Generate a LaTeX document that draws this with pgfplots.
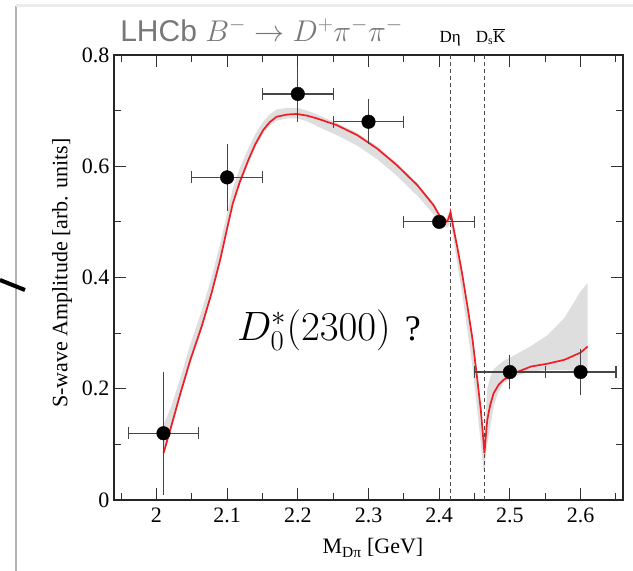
\RequirePackage{fix-cm}
\documentclass[border=0pt]{standalone}
\usepackage{pgfplots}
\pgfplotsset{compat=1.18}
\usepackage{pgfplotstable}
\usepgfplotslibrary{fillbetween}
\usepackage{fontspec}
\setmainfont{Liberation Serif}
\newfontfamily\titlesans{Liberation Sans}
\definecolor{titlegray}{RGB}{120,120,120}
\definecolor{barcol}{RGB}{70,70,70}
\definecolor{curvered}{RGB}{238,30,36}
\definecolor{bandgray}{RGB}{222,222,222}

\pgfplotstableread{
x y lo hi
2.010 0.084 0.080 0.135
2.020 0.128 0.122 0.165
2.034 0.192 0.186 0.220
2.048 0.252 0.246 0.280
2.064 0.312 0.306 0.340
2.078 0.372 0.366 0.400
2.090 0.431 0.425 0.460
2.100 0.488 0.482 0.515
2.108 0.533 0.527 0.560
2.118 0.572 0.566 0.597
2.130 0.611 0.605 0.632
2.140 0.640 0.634 0.658
2.151 0.665 0.659 0.680
2.160 0.679 0.673 0.693
2.170 0.689 0.682 0.702
2.185 0.693 0.686 0.705
2.199 0.694 0.686 0.705
2.213 0.691 0.681 0.700
2.227 0.686 0.672 0.693
2.255 0.674 0.656 0.678
2.284 0.656 0.637 0.660
2.312 0.632 0.613 0.636
2.340 0.602 0.583 0.606
2.369 0.566 0.547 0.570
2.392 0.530 0.514 0.534
2.404 0.503 0.492 0.508
2.409 0.499 0.490 0.506
2.413 0.505 0.492 0.512
2.416 0.518 0.500 0.520
2.420 0.490 0.470 0.500
2.4255 0.455 0.425 0.462
2.432 0.410 0.375 0.418
2.440 0.348 0.305 0.355
2.447 0.290 0.240 0.297
2.454 0.216 0.160 0.225
2.459 0.160 0.100 0.170
2.462 0.115 0.060 0.130
2.464 0.084 0.050 0.120
2.466 0.115 0.080 0.160
2.468 0.144 0.100 0.200
2.472 0.170 0.130 0.220
2.477 0.192 0.168 0.235
2.484 0.207 0.195 0.243
2.491 0.216 0.210 0.250
2.506 0.228 0.222 0.260
2.530 0.240 0.231 0.277
2.553 0.245 0.234 0.296
2.577 0.252 0.234 0.327
2.600 0.265 0.231 0.375
2.610 0.276 0.228 0.390
}\curve

\pgfplotstableread{
x y ex ey
2.01 0.12 0.05 0.10
2.10 0.58 0.05 0.05
2.20 0.73 0.05 0.04
2.30 0.68 0.05 0.03
2.40 0.50 0.05 0.0
2.50 0.23 0.05 0.02
2.60 0.23 0.05 0.03
}\points

\begin{document}
\begin{tikzpicture}
% slide decorations
\draw[black!30, line width=2pt] (16pt,0pt) -- (16pt,565pt);
\draw[black!8, line width=3pt] (16pt,565pt) -- (633pt,565pt);
\draw[black, line width=4pt] (0pt,291pt) -- (25pt,281pt);
\begin{axis}[
  at={(114pt,71pt)}, anchor=south west,
  scale only axis, width=509pt, height=445pt,
  xmin=1.94, xmax=2.66, ymin=0, ymax=0.8,
  clip=false,
  xtick={2,2.1,2.2,2.3,2.4,2.5,2.6},
  minor xtick={1.95,2.05,2.15,2.25,2.35,2.45,2.55,2.65},
  ytick={0,0.2,0.4,0.6,0.8},
  minor ytick={0.1,0.3,0.5,0.7},
  tick align=inside,
  major tick length=12pt, minor tick length=7pt,
  tick style={line width=1pt, black!80},
  axis line style={line width=1.2pt, black!85},
  tick label style={font=\fontsize{22}{26}\selectfont},
  /pgf/number format/assume math mode=true,
  xticklabel style={yshift=-4pt},
  yticklabel style={xshift=-1pt},
]
\addplot[name path=hi, draw=none, forget plot] table[x=x, y=hi]{\curve};
\addplot[name path=lo, draw=none, forget plot] table[x=x, y=lo]{\curve};
\addplot[fill=bandgray, draw=none] fill between[of=hi and lo];

\addplot[black!70, line width=0.9pt, dash pattern=on 4pt off 3pt] coordinates {(2.416,0) (2.416,0.8)};
\addplot[black!70, line width=0.9pt, dash pattern=on 4pt off 3pt] coordinates {(2.464,0) (2.464,0.8)};

\addplot[curvered, line width=1.7pt] table[x=x, y=y]{\curve};

% horizontal error bars
\addplot[only marks, mark=none,
  error bars/.cd, x dir=both, x explicit, error mark=|,
  error bar style={line width=1.2pt, barcol},
  error mark options={line width=1.2pt, barcol, mark size=6pt}]
  table[x=x, y=y, x error=ex]{\points};
% vertical error bars and points
\addplot[only marks, mark=*, mark size=6.8pt, black,
  error bars/.cd, y dir=both, y explicit, error mark=-,
  error bar style={line width=1.2pt, barcol},
  error mark options={line width=1.2pt, barcol, mark size=6pt}]
  table[x=x, y=y, y error=ey]{\points};

\node[anchor=base west, text=titlegray, inner sep=0pt] at ([yshift=14pt]rel axis cs:0.012,1)
  {\fontsize{30}{34}\selectfont\titlesans LHCb $B^{-}\rightarrow D^{+}\pi^{-}\pi^{-}$};
\node[anchor=base west, inner sep=0pt] at ([yshift=13pt]axis cs:2.4004,0.8)
  {\fontsize{17}{20}\selectfont Dη};
\node[anchor=base west, inner sep=0pt] at ([yshift=13pt]axis cs:2.4515,0.8)
  {\fontsize{17}{20}\selectfont D\textsubscript{s}$\overline{\mbox{K}}$};
\node[anchor=base west, inner sep=0pt] at (axis cs:2.114,0.2876)
  {\fontsize{41}{45}\selectfont $D_0^{*}(2300)$\hspace{14pt}{\fontsize{36}{40}\selectfont ?}};
\end{axis}
\node[rotate=90] at (62pt,298pt) {\fontsize{22}{26}\selectfont S-wave Amplitude [arb. units]};
\node[anchor=base] at (373pt,17pt) {\fontsize{22}{26}\selectfont M\textsubscript{Dπ} [GeV]};
\pgfresetboundingbox
\path[use as bounding box] (0pt,0pt) rectangle (633pt,571pt);
\end{tikzpicture}
\end{document}
